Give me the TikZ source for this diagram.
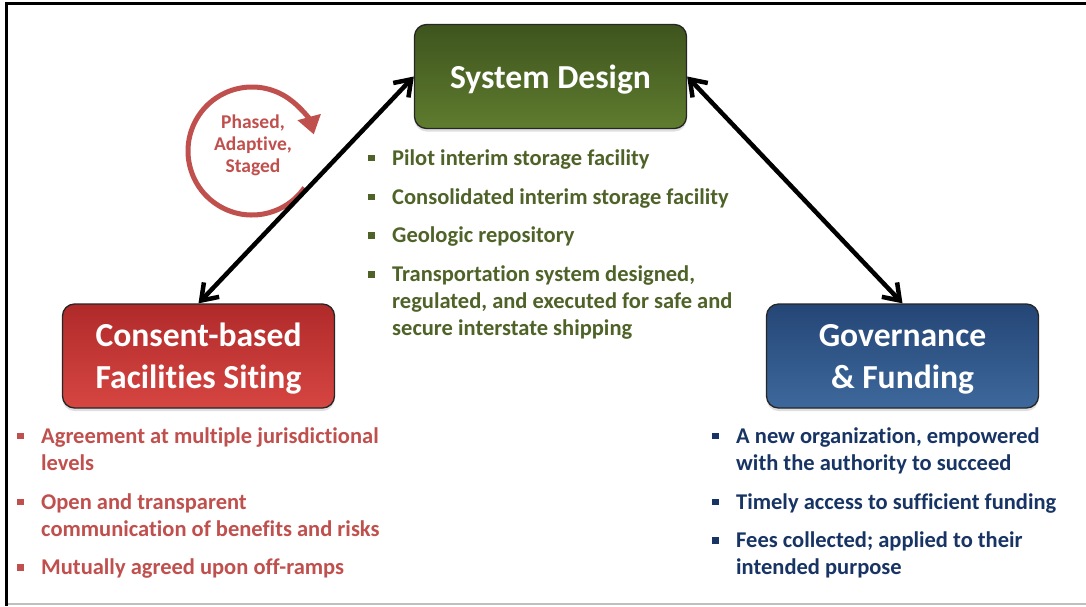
\documentclass[tikz,border=0pt]{standalone}
\usepackage{fontspec}
\setmainfont{Carlito}[Ligatures=NoCommon]
\usepackage{xcolor}
\definecolor{SiteRed}{RGB}{192, 80, 77}
\definecolor{DesignGreen}{RGB}{79, 98, 40}
\definecolor{GovBlue}{RGB}{23, 52, 100}
\definecolor{DesignTop}{RGB}{62, 84, 30}
\definecolor{DesignBot}{RGB}{95, 124, 46}
\definecolor{SiteTop}{RGB}{176, 42, 42}
\definecolor{SiteBot}{RGB}{214, 70, 66}
\definecolor{GovTop}{RGB}{36, 70, 118}
\definecolor{GovBot}{RGB}{62, 104, 156}
\usepackage{tikz}
\usetikzlibrary{arrows.meta, positioning, shadows}

\newcommand{\sqbullet}{\rule[4pt]{6.5pt}{6.5pt}}
\newcommand{\bulletline}[1]{\makebox[24pt][l]{\sqbullet}\begin{tabular}[t]{@{}l@{}}#1\end{tabular}}

\begin{document}
\begin{tikzpicture}[
        x=1pt, y=-1pt,
        hub/.style={rectangle, rounded corners=12pt, draw=black!85, line width=1.3pt, minimum width=272pt, minimum height=104pt, text depth=0pt, align=center, text=white, font=\fontsize{33.6}{42}\selectfont\bfseries, drop shadow={opacity=0.25, shadow xshift=0pt, shadow yshift=-3pt}},
        point/.style={anchor=north west, inner sep=0pt, font=\fontsize{22.5}{27}\selectfont\bfseries},
        link/.style={{Straight Barb[length=15pt,width=21pt]}-{Straight Barb[length=15pt,width=21pt]}, line width=4.5pt, color=black},
        loopring/.style={-{Triangle[length=18pt,width=23pt]}, line width=5pt, color=SiteRed}
    ]
        \useasboundingbox (0,0) rectangle (1086,606);
        \fill[white] (0,0) rectangle (1086,606);

        % --- FRAME ---
        \draw[line width=3.5pt] (6.5,606) -- (6.5,3.5) -- (1086,3.5);
        \draw[black!25, line width=2pt] (8,604) -- (1086,604);

        % --- HUBS ---
        \node[hub, top color=DesignTop, bottom color=DesignBot] (design) at (550.5,76.5) {System Design};
        \node[hub, top color=SiteTop, bottom color=SiteBot] (siting) at (198.5,356) {Consent-based\\Facilities Siting};
        \node[hub, top color=GovTop, bottom color=GovBot] (gov) at (902.5,356) {Governance\\\& Funding};

        % --- CYCLE ---
        \draw[loopring] (252,151) ++(35:64) arc[start angle=35, end angle=345, radius=64];
        \node[align=center, text=SiteRed, font=\fontsize{19.5}{22}\selectfont\bfseries] (phase) at (253,145) {Phased,\\Adaptive,\\Staged};

        % --- DESIGN POINTS ---
        \node[point, text=DesignGreen] (g1) at (368,146) {\bulletline{Pilot interim storage facility}};
        \node[point, text=DesignGreen, below=11.5pt of g1.south west, anchor=north west] (g2) {\bulletline{Consolidated interim storage facility}};
        \node[point, text=DesignGreen, below=11.5pt of g2.south west, anchor=north west] (g3) {\bulletline{Geologic repository}};
        \node[point, text=DesignGreen, below=11.5pt of g3.south west, anchor=north west] (g4) {\bulletline{Transportation system designed,\\regulated, and executed for safe and\\secure interstate shipping}};

        % --- SITING POINTS ---
        \node[point, text=SiteRed] (r1) at (17,424) {\bulletline{Agreement at multiple jurisdictional\\levels}};
        \node[point, text=SiteRed, below=11.5pt of r1.south west, anchor=north west] (r2) {\bulletline{Open and transparent\\communication of benefits and risks}};
        \node[point, text=SiteRed, below=11.5pt of r2.south west, anchor=north west] (r3) {\bulletline{Mutually agreed upon off-ramps}};

        % --- GOVERNANCE POINTS ---
        \node[point, text=GovBlue] (b1) at (712,424) {\bulletline{A new organization, empowered\\with the authority to succeed}};
        \node[point, text=GovBlue, below=11.5pt of b1.south west, anchor=north west] (b2) {\bulletline{Timely access to sufficient funding}};
        \node[point, text=GovBlue, below=11.5pt of b2.south west, anchor=north west] (b3) {\bulletline{Fees collected; applied to their\\intended purpose}};

        % --- CONNECTIONS ---
        \draw[link] (design.west) -- (siting.north);
        \draw[link] (design.east) -- (gov.north);

    \end{tikzpicture}
\end{document}
